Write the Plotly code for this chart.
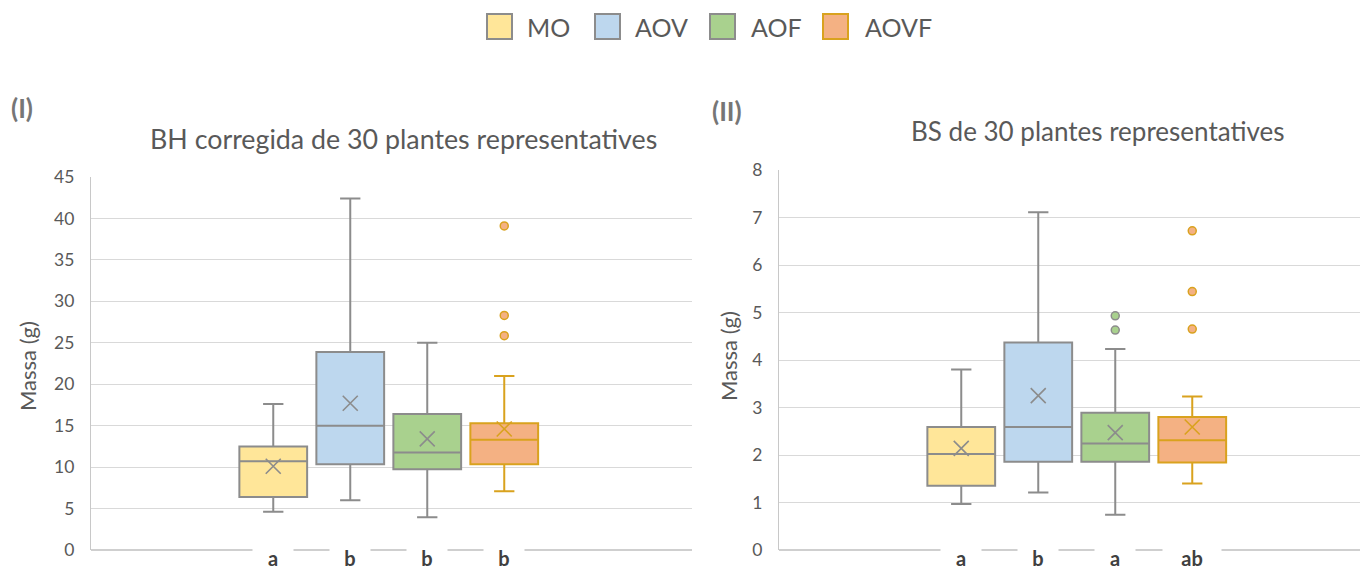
import plotly.graph_objects as go

# ---------------- data ----------------
groups = ["MO", "AOV", "AOF", "AOVF"]

# (I) BH corregida de 30 plantes representatives
bh_lower = [4.6, 6.0, 3.95, 7.1]
bh_q1 = [6.4, 10.35, 9.75, 10.35]
bh_median = [10.7, 15.0, 11.75, 13.3]
bh_q3 = [12.5, 23.9, 16.4, 15.3]
bh_upper = [17.6, 42.4, 25.0, 21.0]
bh_mean = [10.1, 17.7, 13.4, 14.6]
bh_outliers = [[], [], [], [39.1, 28.3, 25.85]]
bh_letters = ["a", "b", "b", "b"]

# (II) BS de 30 plantes representatives
bs_lower = [0.97, 1.21, 0.74, 1.40]
bs_q1 = [1.35, 1.86, 1.86, 1.84]
bs_median = [2.02, 2.59, 2.24, 2.31]
bs_q3 = [2.59, 4.37, 2.89, 2.80]
bs_upper = [3.80, 7.11, 4.23, 3.23]
bs_mean = [2.14, 3.25, 2.47, 2.59]
bs_outliers = [[], [], [4.93, 4.63], [6.72, 5.44, 4.65]]
bs_letters = ["a", "b", "a", "ab"]

title_bh = "BH corregida de 30 plantes representatives"
title_bs = "BS de 30 plantes representatives"
ytitle = "Massa (g)"

# ---------------- styles ----------------
fills = ["#FFE699", "#BDD7EE", "#A9D18E", "#F4B183"]
lines = ["#8C8C8C", "#8C8C8C", "#8C8C8C", "#D9A21E"]
FONT = "Lato"
TXT = "#595959"
OFF = 8                      # page body margin
W, H = 1368 - OFF, 571 - OFF

def px(x):                   # reference x pixel -> paper fraction
    return (x - OFF) / W

def py(y):                   # reference y pixel -> paper fraction
    return (H - (y - OFF)) / H

fig = go.Figure()

def add_panel(xa, ya, lower, q1, med, q3, upper, mean, outl):
    for i, g in enumerate(groups):
        fig.add_trace(go.Box(
            x=[i], q1=[q1[i]], median=[med[i]], q3=[q3[i]],
            lowerfence=[lower[i]], upperfence=[upper[i]],
            width=0.88, whiskerwidth=0.3, boxpoints=False,
            fillcolor=fills[i], line=dict(color=lines[i], width=2),
            name=g, showlegend=False, hoverinfo="skip",
            xaxis=xa, yaxis=ya))
        fig.add_trace(go.Scatter(
            x=[i], y=[mean[i]], mode="markers",
            marker=dict(symbol="x-thin", size=15,
                        line=dict(color=lines[i], width=1.6)),
            showlegend=False, hoverinfo="skip", xaxis=xa, yaxis=ya))
        if outl[i]:
            fig.add_trace(go.Scatter(
                x=[i] * len(outl[i]), y=outl[i], mode="markers",
                marker=dict(symbol="circle", size=8, color=fills[i],
                            line=dict(color=lines[i], width=1.5)),
                showlegend=False, hoverinfo="skip", xaxis=xa, yaxis=ya))

add_panel("x", "y", bh_lower, bh_q1, bh_median, bh_q3, bh_upper, bh_mean, bh_outliers)
add_panel("x2", "y2", bs_lower, bs_q1, bs_median, bs_q3, bs_upper, bs_mean, bs_outliers)

# geometry (reference pixels)
L1, R1, T1 = 91, 692, 177
L2, R2, T2 = 779, 1368, 170
B = 550
px_unit = 77.0
c1 = 388.75
c2 = 1076.75

def xr(L, R, c):
    p0 = c - 1.5 * px_unit
    return [(L - p0) / px_unit, (R - p0) / px_unit]

axis_common = dict(showgrid=False, zeroline=False, showticklabels=False,
                   showline=False, fixedrange=True, automargin=False)
yaxis_common = dict(showgrid=True, gridcolor="#D9D9D9", gridwidth=1.3,
                    zeroline=False, showline=True, linecolor="#C8C8C8",
                    linewidth=1.3, ticks="", tickfont=dict(family=FONT, size=17.5, color=TXT),
                    ticklabelstandoff=12, fixedrange=True, automargin=False)

fig.update_layout(
    width=W, height=H, margin=dict(l=0, r=0, t=0, b=0, autoexpand=False),
    paper_bgcolor="white", plot_bgcolor="white", showlegend=False,
    font=dict(family=FONT, color=TXT),
    xaxis=dict(domain=[px(L1), min(1, px(R1))], range=xr(L1, R1, c1), anchor="y", **axis_common),
    xaxis2=dict(domain=[px(L2), 1], range=xr(L2, R2, c2), anchor="y2", **axis_common),
    yaxis=dict(domain=[py(B), py(T1)], range=[0, 45], dtick=5, anchor="x", **yaxis_common),
    yaxis2=dict(domain=[py(B), py(T2)], range=[0, 8], dtick=1, anchor="x2", **yaxis_common),
)

shapes = []
# x axis baselines
for (L, R) in [(L1, R1), (L2, R2)]:
    shapes.append(dict(type="line", xref="paper", yref="paper",
                       x0=px(L), x1=min(1, px(R)), y0=py(B), y1=py(B),
                       line=dict(color="#BFBFBF", width=1.5), layer="above"))

annotations = []
# significance letters
for xa, ya, letters, ysh, hh, va in [("x", "y", bh_letters, 6, 24, "middle"),
                                     ("x2", "y2", bs_letters, 6, 24, "bottom")]:
    for i, t in enumerate(letters):
        annotations.append(dict(
            x=i, y=0, xref=xa, yref=ya, text="<b>%s</b>" % t, showarrow=False,
            xanchor="center", yanchor="top", yshift=ysh, height=hh, valign=va,
            width=38 if len(t) == 1 else 56, bgcolor="white",
            font=dict(family=FONT, size=20, color="#404040")))

# titles
annotations += [
    dict(x=px((150 + 656) / 2), y=py(139), xref="paper", yref="paper", text=title_bh,
         showarrow=False, xanchor="center", yanchor="middle", font=dict(family=FONT, size=26.8, color=TXT)),
    dict(x=px((912 + 1283) / 2), y=py(131), xref="paper", yref="paper", text=title_bs,
         showarrow=False, xanchor="center", yanchor="middle", font=dict(family=FONT, size=26, color=TXT)),
    dict(x=px(9), y=py(108), xref="paper", yref="paper", text="<b>(I)</b>",
         showarrow=False, xanchor="left", yanchor="middle", font=dict(family=FONT, size=26, color="#767676")),
    dict(x=px(710), y=py(111), xref="paper", yref="paper", text="<b>(II)</b>",
         showarrow=False, xanchor="left", yanchor="middle", font=dict(family=FONT, size=26, color="#767676")),
    dict(x=px(28), y=py(366), xref="paper", yref="paper", text=ytitle, textangle=-90,
         showarrow=False, xanchor="center", yanchor="middle", font=dict(family=FONT, size=22, color=TXT)),
    dict(x=px(728), y=py(356), xref="paper", yref="paper", text=ytitle, textangle=-90,
         showarrow=False, xanchor="center", yanchor="middle", font=dict(family=FONT, size=22, color=TXT)),
]

# legend (drawn manually)
leg_sq_x = [487, 595, 710, 823]
leg_tx_x = [525, 633, 749, 863]
for i, g in enumerate(groups):
    shapes.append(dict(type="rect", xref="paper", yref="paper",
                       x0=px(leg_sq_x[i]), x1=px(leg_sq_x[i] + 25),
                       y0=py(39), y1=py(14),
                       fillcolor=fills[i], line=dict(color=lines[i], width=2)))
    annotations.append(dict(x=px(leg_tx_x[i]), y=py(27), xref="paper", yref="paper",
                            text=g, showarrow=False, xanchor="left", yanchor="middle",
                            font=dict(family=FONT, size=25, color=TXT)))

fig.update_layout(shapes=shapes, annotations=annotations)
fig.write_html("out.html")
